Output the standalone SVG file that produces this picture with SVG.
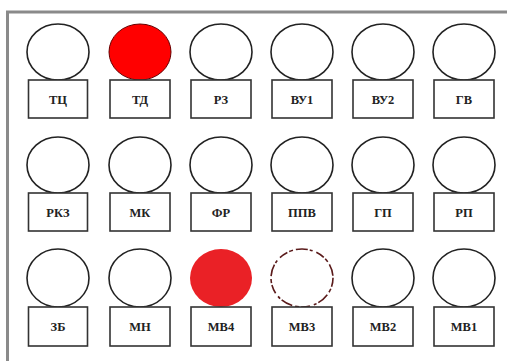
<svg xmlns="http://www.w3.org/2000/svg" width="507" height="361" viewBox="0 0 507 361">
<style>
.c{fill:#fff;stroke:#222;stroke-width:1.6}
.b{fill:#fff;stroke:#333;stroke-width:1.6}
.t{font-family:"Liberation Serif",serif;font-weight:bold;font-size:12.5px;fill:#222;text-anchor:middle}
</style>
<rect x="0" y="0" width="507" height="361" fill="#fff"/>
<rect x="7.5" y="12" width="620" height="420" fill="none" stroke="#8a8a8a" stroke-width="3"/>
<g id="connectors"/>
<g id="n-TC"><ellipse class="c" cx="58" cy="52" rx="31" ry="28"/><rect class="b" x="28.5" y="80" width="59" height="38"/><text class="t" x="58" y="104">ТЦ</text></g>
<g id="n-TD"><ellipse cx="140" cy="52" rx="31" ry="28" fill="#ff0000" stroke="#600" stroke-width="1"/><rect class="b" x="110" y="80" width="60" height="38"/><text class="t" x="140" y="104">ТД</text></g>
<g id="n-RZ"><ellipse class="c" cx="221" cy="52" rx="31" ry="28"/><rect class="b" x="191" y="80" width="60" height="38"/><text class="t" x="221" y="104">РЗ</text></g>
<g id="n-VU1"><ellipse class="c" cx="302" cy="52" rx="31" ry="28"/><rect class="b" x="272" y="80" width="60" height="38"/><text class="t" x="302" y="104">ВУ1</text></g>
<g id="n-VU2"><ellipse class="c" cx="383" cy="52" rx="31" ry="28"/><rect class="b" x="353" y="80" width="60" height="38"/><text class="t" x="383" y="104">ВУ2</text></g>
<g id="n-GV"><ellipse class="c" cx="464" cy="52" rx="31" ry="28"/><rect class="b" x="434" y="80" width="60" height="38"/><text class="t" x="464" y="104">ГВ</text></g>

<g id="n-RKZ"><ellipse class="c" cx="58" cy="165" rx="31" ry="28"/><rect class="b" x="28.5" y="193" width="59" height="38"/><text class="t" x="58" y="217">РКЗ</text></g>
<g id="n-MK"><ellipse class="c" cx="140" cy="165" rx="31" ry="28"/><rect class="b" x="110" y="193" width="60" height="38"/><text class="t" x="140" y="217">МК</text></g>
<g id="n-FR"><ellipse class="c" cx="221" cy="165" rx="31" ry="28"/><rect class="b" x="191" y="193" width="60" height="38"/><text class="t" x="221" y="217">ФР</text></g>
<g id="n-PPV"><ellipse class="c" cx="302" cy="165" rx="31" ry="28"/><rect class="b" x="272" y="193" width="60" height="38"/><text class="t" x="302" y="217">ППВ</text></g>
<g id="n-GP"><ellipse class="c" cx="383" cy="165" rx="31" ry="28"/><rect class="b" x="353" y="193" width="60" height="38"/><text class="t" x="383" y="217">ГП</text></g>
<g id="n-RP"><ellipse class="c" cx="464" cy="165" rx="31" ry="28"/><rect class="b" x="434" y="193" width="60" height="38"/><text class="t" x="464" y="217">РП</text></g>

<g id="n-ZB"><ellipse class="c" cx="58" cy="278" rx="31" ry="29"/><rect class="b" x="28.5" y="307" width="59" height="39"/><text class="t" x="58" y="331">ЗБ</text></g>
<g id="n-MN"><ellipse class="c" cx="140" cy="278" rx="31" ry="29"/><rect class="b" x="110" y="307" width="60" height="39"/><text class="t" x="140" y="331">МН</text></g>
<g id="n-MV4"><ellipse cx="221" cy="278" rx="31" ry="29" fill="#ea2126"/><rect class="b" x="191" y="307" width="60" height="39"/><text class="t" x="221" y="331">МВ4</text></g>
<g id="n-MV3"><ellipse cx="302" cy="278" rx="31" ry="29" fill="#fff" stroke="#5a1a1a" stroke-width="1.6" stroke-dasharray="9 2 4 3 12 2 3 4"/><rect class="b" x="272" y="307" width="60" height="39"/><text class="t" x="302" y="331">МВ3</text></g>
<g id="n-MV2"><ellipse class="c" cx="383" cy="278" rx="31" ry="29"/><rect class="b" x="353" y="307" width="60" height="39"/><text class="t" x="383" y="331">МВ2</text></g>
<g id="n-MV1"><ellipse class="c" cx="464" cy="278" rx="31" ry="29"/><rect class="b" x="434" y="307" width="60" height="39"/><text class="t" x="464" y="331">МВ1</text></g>
</svg>
